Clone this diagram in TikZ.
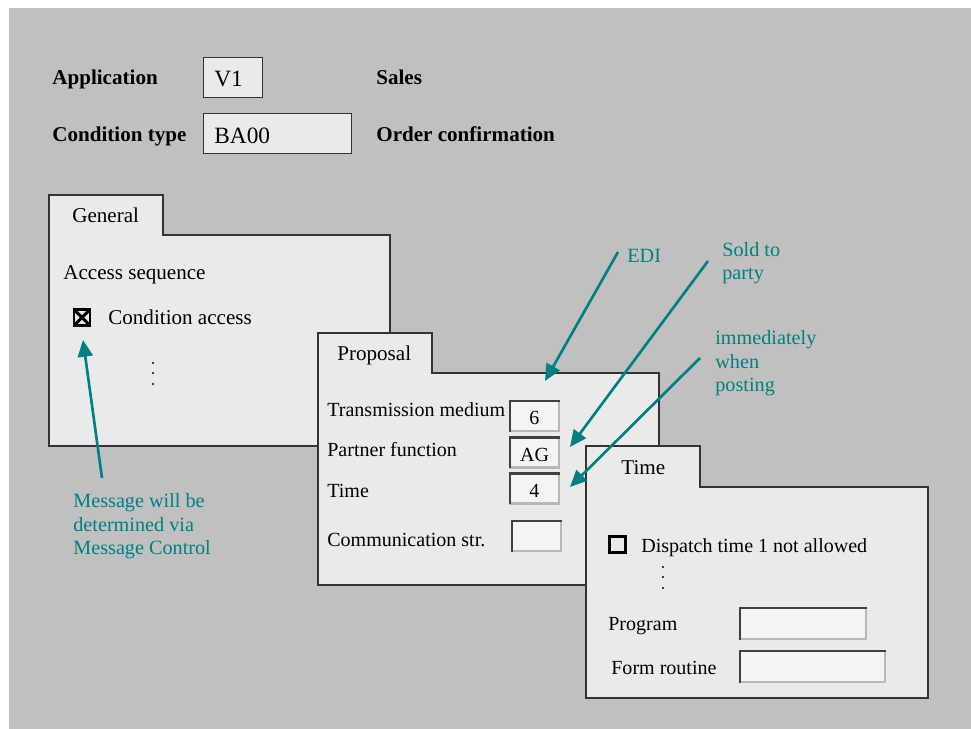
\documentclass[tikz,border=0pt]{standalone}
\usepackage{fontspec}
\setmainfont{Liberation Serif}
\usepackage{tikz}
\usetikzlibrary{arrows.meta}
\definecolor{bgGray}{HTML}{C0C0C0}
\definecolor{panelGray}{HTML}{EAEAEA}
\definecolor{fieldGray}{HTML}{F4F4F4}
\definecolor{noteTeal}{HTML}{008080}
\tikzset{
dot/.style = {circle, fill, minimum size=#1,
              inner sep=0pt, outer sep=0pt},
dot/.default = 1.3pt % size of the dots
}
\tikzset{
window/.style = {draw=black!80, fill=panelGray, line width=0.6pt}
}
\tikzset{
lbl/.style = {anchor=base west, inner sep=0pt, font=\fontsize{#1}{14}\selectfont},
lbl/.default = 12,
hdrlbl/.style = {lbl, font=\fontsize{12}{14}\selectfont\bfseries},
note/.style = {anchor=base west, inner sep=0pt, align=left, text=noteTeal,
               font=\fontsize{11.5}{13.6}\selectfont} % base = last line
}
\tikzset{
hdr/.style = {rectangle, draw=black!80, fill=panelGray, anchor=west,
              minimum height=0.8cm, inner xsep=0.22cm, inner ysep=0pt,
              text width=#1, align=left, text height=11pt, text depth=0pt,
              font=\fontsize{13.3}{15}\selectfont}
}
\tikzset{
field/.style = {rectangle, fill=fieldGray, minimum width=#1, minimum height=0.63cm,
                inner sep=0pt, text height=10pt, text depth=0pt,
                font=\fontsize{11.4}{14}\selectfont,
                path picture={
                  \draw[black!28, line width=2pt] (path picture bounding box.north east)
                    -- (path picture bounding box.south east) -- (path picture bounding box.south west);
                  \draw[black!75, line width=2pt] (path picture bounding box.south west)
                    -- (path picture bounding box.north west) -- (path picture bounding box.north east);}},
field/.default = 1.02cm
}
\tikzset{
check/.style = {rectangle, draw=black, line width=1.2pt, minimum size=0.32cm,
                inner sep=0pt, fill=panelGray},
crossed/.style = {check, line width=1.6pt, path picture={
                  \draw[line width=1.7pt] (path picture bounding box.south west) -- (path picture bounding box.north east)
                    (path picture bounding box.north west) -- (path picture bounding box.south east);}},
pointer/.style = {-{Triangle[length=9.5pt,width=8.5pt]}, draw=noteTeal, line width=1.5pt}
}

\begin{document}
\begin{tikzpicture}[x=0.02cm,y=-0.02cm]
    \useasboundingbox (0,0) rectangle (971,729);
    \fill[white] (0,0) rectangle (971,729);
    \fill[bgGray] (9,8) rectangle (971,729);

    % header
    \node[hdrlbl] (appLabel) at (52,85) {Application};
    \node[hdr=0.74cm] (appBox) at (203,77) {V1};
    \node[hdrlbl] (appText) at (376,85) {Sales};
    \node[hdrlbl] (condLabel) at (52,142) {Condition type};
    \node[hdr=2.52cm] (condBox) at (203,133.5) {BA00};
    \node[hdrlbl] (condText) at (376,142) {Order confirmation};

    % general
    \draw[window] (49,195) -- (163,195) -- (163,235) -- (390,235) -- (390,446) -- (49,446) -- cycle;
    \node[lbl] (generalTab) at (72,223) {General};
    \node[lbl] (accessLabel) at (63,280) {Access sequence};
    \node[crossed] (accessCheck) at (82,317.5) {};
    \node[lbl] (accessText) at (108,325) {Condition access};
    \foreach \y [count=\i] in {363,373,384}
      \node[dot] (generalDot\i) at (153,\y) {};

    % proposal
    \draw[window] (318,333) -- (432,333) -- (432,373) -- (659,373) -- (659,585) -- (318,585) -- cycle;
    \node[lbl] (proposalTab) at (337,361) {Proposal};
    \node[lbl=11.4] (mediumLabel) at (327,417) {Transmission medium};
    \node[lbl=11.4] (partnerLabel) at (327,457) {Partner function};
    \node[lbl=11.4] (timeLabel) at (327,498) {Time};
    \node[lbl=11.4] (commLabel) at (327,547) {Communication str.};
    \node[field, minimum height=0.64cm] (mediumField) at (534.5,416) {6};
    \node[field] (partnerField) at (534.5,452.5) {AG};
    \node[field] (timeField) at (534.5,488.5) {4};
    \node[field, minimum height=0.64cm] (commField) at (536.5,536) {};

    % time
    \draw[window] (586,446) -- (700,446) -- (700,487) -- (928,487) -- (928,698) -- (586,698) -- cycle;
    \node[lbl] (timeTab) at (621,475) {Time};
    \node[check] (dispatchCheck) at (617.5,544.5) {};
    \node[lbl=11.4] (dispatchText) at (641,553) {Dispatch time 1 not allowed};
    \foreach \y [count=\i] in {567,577,588}
      \node[dot] (timeDot\i) at (663,\y) {};
    \node[lbl=11.4] (programLabel) at (608,630) {Program};
    \node[lbl=11.4] (formLabel) at (611,674) {Form routine};
    \node[field=2.56cm, minimum height=0.66cm] (programField) at (803,623.5) {};
    \node[field=2.94cm, minimum height=0.66cm] (formField) at (812.5,666.5) {};

    % notes
    \node[note] (msgNote) at (73,555) {Message will be\\determined via\\Message Control};
    \node[note] (ediNote) at (627,263) {EDI};
    \node[note] (soldNote) at (722,280) {Sold to\\party};
    \node[note] (postNote) at (715,392) {immediately\\when\\posting};

    \coordinate (msgTail) at (102,478);
    \coordinate (msgTip) at (83,340);
    \coordinate (ediTail) at (618,252);
    \coordinate (ediTip) at (545,381);
    \coordinate (soldTail) at (708,261);
    \coordinate (soldTip) at (570,447);
    \coordinate (postTail) at (700,358);
    \coordinate (postTip) at (570,487);

    \draw[pointer] (msgTail) -- (msgTip);
    \draw[pointer] (ediTail) -- (ediTip);
    \draw[pointer] (soldTail) -- (soldTip);
    \draw[pointer] (postTail) -- (postTip);
\end{tikzpicture}
\end{document}
